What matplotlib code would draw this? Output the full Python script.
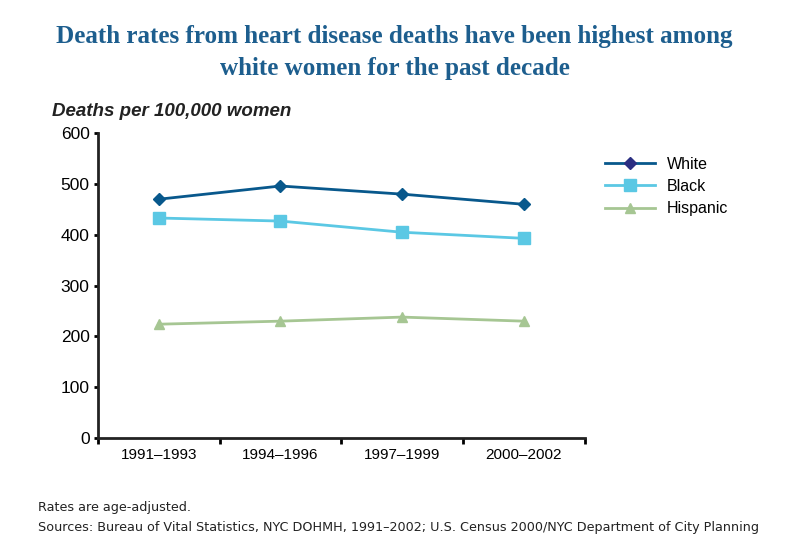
import matplotlib
matplotlib.use('Agg')
import matplotlib.pyplot as plt
from matplotlib.ticker import FixedLocator, NullFormatter

periods = ['1991\u20131993', '1994\u20131996', '1997\u20131999', '2000\u20132002']
white = [470, 496, 480, 460]
black = [433, 427, 405, 393]
hispanic = [224, 230, 238, 230]
yticks = [0, 100, 200, 300, 400, 500, 600]

fig = plt.figure(figsize=(7.86, 5.48), dpi=100)
ax = fig.add_axes([0.1247, 0.2007, 0.619, 0.5563])

pos = [i + 0.5 for i in range(len(periods))]
ax.plot(pos, white, color='#08588c', lw=2, marker='D', ms=6,
        mfc='#08588c', mec='#08588c', label='White')
ax.plot(pos, black, color='#5bc8e4', lw=2, marker='s', ms=9,
        mfc='#5bc8e4', mec='#5bc8e4', label='Black')
ax.plot(pos, hispanic, color='#a6c693', lw=2, marker='^', ms=7,
        mfc='#a6c693', mec='#a6c693', label='Hispanic')

ax.set_xlim(0, 4)
ax.set_ylim(0, 600)
ax.set_yticks(yticks)
ax.xaxis.set_major_locator(FixedLocator([0, 1, 2, 3, 4]))
ax.xaxis.set_major_formatter(NullFormatter())
ax.xaxis.set_minor_locator(FixedLocator(pos))
ax.set_xticklabels(periods, minor=True, fontsize=11, family='Liberation Sans')
ax.tick_params(axis='x', which='minor', length=0, pad=7)
ax.tick_params(axis='x', which='major', length=4, width=2, direction='out')
ax.tick_params(axis='y', length=3, width=2, direction='out', pad=3,
               labelsize=12.5)
for lab in ax.get_yticklabels():
    lab.set_family('Liberation Sans')

for s in ['top', 'right']:
    ax.spines[s].set_visible(False)
for s in ['left', 'bottom']:
    ax.spines[s].set_linewidth(2)
    ax.spines[s].set_color('#222222')

leg = fig.legend(loc='upper left', bbox_to_anchor=(0.752, 0.740), frameon=False,
                 handlelength=3.1, handletextpad=0.75, labelspacing=0.45,
                 prop={'family': 'Liberation Sans', 'size': 11.5})
leg.legend_handles[0].set_markerfacecolor('#2b2f82')
leg.legend_handles[0].set_markeredgecolor('#2b2f82')

fig.text(0.502, 0.955, 'Death rates from heart disease deaths have been highest among\nwhite women for the past decade',
         ha='center', va='top', fontsize=18.1, fontweight='bold',
         family='Liberation Serif', color='#1d5e8e', linespacing=1.5)
fig.text(0.066, 0.797, 'Deaths per 100,000 women', fontsize=13.5,
         fontweight='bold', style='italic', family='Liberation Sans',
         color='#222222', va='center')
fig.text(0.048, 0.073, 'Rates are age-adjusted.', fontsize=9.15,
         family='DejaVu Sans', color='#222222', va='center')
fig.text(0.048, 0.037, 'Sources: Bureau of Vital Statistics, NYC DOHMH, 1991\u20132002; U.S. Census 2000/NYC Department of City Planning',
         fontsize=9.15, family='DejaVu Sans', color='#222222', va='center')

plt.savefig('out.png', dpi=100)
